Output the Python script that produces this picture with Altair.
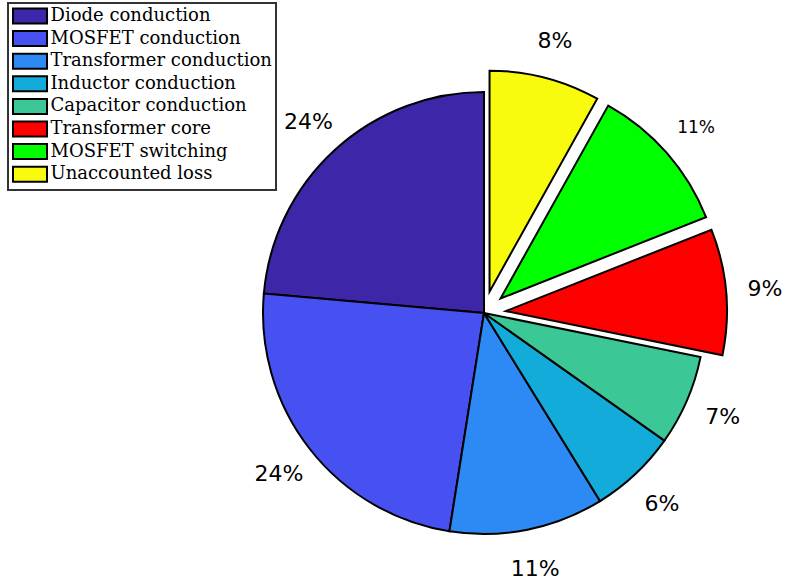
import altair as alt
import pandas as pd

categories = ["Diode conduction", "MOSFET conduction", "Transformer conduction",
              "Inductor conduction", "Capacitor conduction", "Transformer core",
              "MOSFET switching", "Unaccounted loss"]
shares = [23.6, 23.9, 11.3, 6.4, 6.6, 9.2, 10.9, 8.1]
labels = ["24%", "24%", "11%", "6%", "7%", "9%", "11%", "8%"]
explode = [0, 0, 0, 0, 0, 1, 1, 1]
colors = ["#3E26A8", "#4751F1", "#2D89F3", "#13ACDA", "#3BC896",
          "#FF0000", "#00FF00", "#F9FB0E"]

CX, CY, R, D, RL = 484, 313, 221, 22, 260

df = pd.DataFrame({"category": categories, "share": shares, "label": labels,
                   "explode": explode, "idx": list(range(len(categories)))})

base = alt.Chart(df).transform_calculate(
    ord="-datum.idx"
).transform_joinaggregate(
    total="sum(share)"
).transform_window(
    cum="sum(share)", sort=[alt.SortField("ord")], frame=[None, 0]
).transform_calculate(
    a0="2*PI*(datum.cum-datum.share)/datum.total",
    a1="2*PI*datum.cum/datum.total",
).transform_calculate(
    mid="(datum.a0+datum.a1)/2"
).transform_calculate(
    cx=f"{CX}+datum.explode*{D}*sin(datum.mid)",
    cy=f"{CY}-datum.explode*{D}*cos(datum.mid)",
)

arcs = base.mark_arc(outerRadius=R, stroke="black", strokeWidth=2, opacity=1).encode(
    theta=alt.Theta("a0:Q", scale=None),
    theta2="a1:Q",
    x=alt.X("cx:Q", scale=None),
    y=alt.Y("cy:Q", scale=None),
    color=alt.Color(
        "category:N",
        scale=alt.Scale(domain=categories, range=colors),
        sort=categories,
        legend=alt.Legend(
            title=None, orient="none", legendX=8, legendY=3,
            symbolType="M-2,-0.88H2V0.88H-2Z", symbolSize=289,
            symbolOffset=9,
            symbolStrokeColor="black", symbolStrokeWidth=2, symbolOpacity=1,
            labelFont="DejaVu Serif", labelFontSize=18, labelColor="black",
            labelLimit=0, labelOffset=11, rowPadding=-0.4,
            padding=3.5, strokeColor="#333333", fillColor="white", cornerRadius=0,
        ),
    ),
)

text = base.mark_text(radius=RL, font="DejaVu Sans", baseline="middle",
                      align="center", color="black", dy=1).encode(
    theta=alt.Theta("mid:Q", scale=None),
    x=alt.X("cx:Q", scale=None),
    y=alt.Y("cy:Q", scale=None),
    text="label:N",
    size=alt.condition("datum.category == 'MOSFET switching'", alt.value(17), alt.value(22)),
)

chart = alt.layer(arcs, text).properties(
    width=786, height=581, autosize=alt.AutoSizeParams(type="none"), padding=0
).configure_view(stroke=None).configure_legend(strokeWidth=2)

chart.save("out.html", embed_options={"renderer": "svg", "actions": False})
